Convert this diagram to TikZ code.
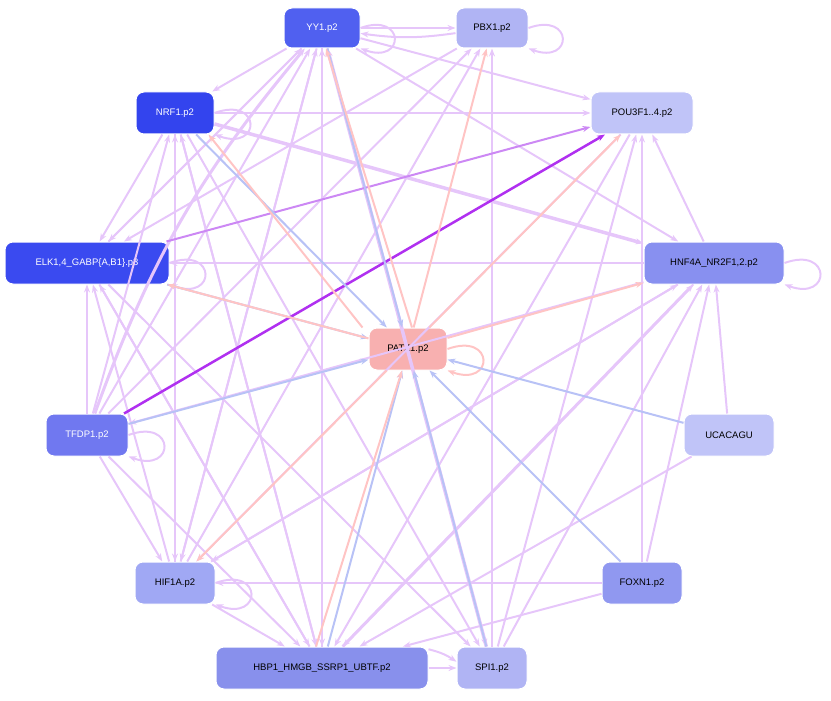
\documentclass[tikz,border=0pt]{standalone}
\usepackage{fontspec}
\setmainfont{Liberation Sans}
\usetikzlibrary{arrows.meta}
\definecolor{ep}{HTML}{E6C6FA}
\definecolor{epk}{HTML}{FFC4C4}
\definecolor{ebl}{HTML}{B8C2F6}
\begin{document}
\begin{tikzpicture}[x=1pt,y=-1pt,
 nd/.style={rounded corners=8pt,draw=white,line width=1pt,minimum height=42pt,font=\fontsize{9.5}{11}\selectfont,inner sep=3pt},
 e/.style={draw=ep,line width=2pt,-{Stealth[length=8pt,width=6pt]}},
 pk/.style={e,draw=epk},
 bl/.style={e,draw=ebl}]
\useasboundingbox (0,0) rectangle (831,701);
\node[nd,fill={rgb,255:red,80;green,96;blue,240},text=white,minimum width=76pt,minimum height=40pt] (yy) at (322,28) {YY1.p2};
\node[nd,fill={rgb,255:red,176;green,180;blue,244},minimum width=72pt,minimum height=40pt] (pbx) at (492,28) {PBX1.p2};
\node[nd,fill={rgb,255:red,51;green,68;blue,238},text=white,minimum width=78pt] (nrf) at (175,113) {NRF1.p2};
\node[nd,fill={rgb,255:red,192;green,196;blue,248},minimum width=102pt] (pou) at (642,113) {POU3F1..4.p2};
\node[nd,fill={rgb,255:red,58;green,74;blue,240},text=white,minimum width=164pt] (elk) at (87,263) {ELK1,4\_GABP\{A,B1\}.p3};
\node[nd,fill={rgb,255:red,136;green,144;blue,240},minimum width=140pt] (hnf) at (714,263) {HNF4A\_NR2F1,2.p2};
\node[nd,fill={rgb,255:red,248;green,176;blue,176},minimum width=78pt] (patz) at (408,349) {PATZ1.p2};
\node[nd,fill={rgb,255:red,112;green,120;blue,240},text=white,minimum width=82pt] (tfdp) at (87,435) {TFDP1.p2};
\node[nd,fill={rgb,255:red,192;green,196;blue,248},minimum width=90pt] (uca) at (729,435) {UCACAGU};
\node[nd,fill={rgb,255:red,160;green,168;blue,244},minimum width=80pt] (hif) at (175,583) {HIF1A.p2};
\node[nd,fill={rgb,255:red,144;green,152;blue,240},minimum width=80pt] (fox) at (642,583) {FOXN1.p2};
\node[nd,fill={rgb,255:red,136;green,144;blue,236},minimum width=212pt] (hbp) at (322,668) {HBP1\_HMGB\_SSRP1\_UBTF.p2};
\node[nd,fill={rgb,255:red,176;green,180;blue,244},minimum width=70pt] (spi) at (492,668) {SPI1.p2};
% purple edges
\foreach \a/\b in {yy/pbx,yy/pou,nrf/pou,yy/hnf,hnf/pou,tfdp/yy,tfdp/nrf,tfdp/elk,tfdp/hif,tfdp/hbp,hif/yy,hif/nrf,hif/elk,hif/pbx,hif/hbp,hbp/yy,hbp/nrf,hbp/elk,hbp/spi,spi/yy,spi/hnf,spi/pou,spi/pbx,fox/hnf,fox/pou,fox/hif,fox/hbp,uca/hnf,uca/hbp,hnf/hif,hnf/hbp,hnf/tfdp,pou/hif,pou/hbp,nrf/elk,yy/elk,yy/nrf,elk/yy,nrf/hif,nrf/hbp,yy/hbp,yy/hif,pbx/elk,hnf/elk,elk/hbp,nrf/spi,yy/spi,elk/spi,hif/hnf,tfdp/pbx}
  \draw[e] (\a) -- (\b);
\draw[e,line width=3.5pt] (nrf) -- (hnf);
\draw[e,line width=3.5pt] (spi) -- (yy);
\draw[e,line width=3pt] (hbp) -- (hnf);
\draw[e,line width=3pt] (tfdp) to[bend left=10] (yy);
\draw[e] (pbx) to[bend left=8] (yy);
\draw[e] (hbp) to[bend left=10] (spi);
\draw[e,draw={rgb,255:red,204;green,136;blue,244}] (elk) -- (pou);
\draw[e,draw={rgb,255:red,176;green,48;blue,240},line width=2.5pt] (tfdp) -- (pou);
% self loops
\draw[e] (yy.east) to[out=20,in=-20,looseness=6] (yy.south east);
\draw[e] (pbx.east) to[out=20,in=-20,looseness=6] (pbx.south east);
\draw[e] (nrf.east) to[out=20,in=-20,looseness=6] (nrf.south east);
\draw[e] (hnf.east) to[out=20,in=-20,looseness=6] (hnf.south east);
\draw[e] (tfdp.east) to[out=20,in=-20,looseness=6] (tfdp.south east);
\draw[e] (hif.east) to[out=20,in=-20,looseness=6] (hif.south east);
\draw[e] (elk.east) to[out=20,in=-20,looseness=6] (elk.south east);
\draw[pk] (patz.east) to[out=20,in=-20,looseness=6] (patz.south east);
% PATZ1 edges
\foreach \a in {uca,fox,spi,tfdp,yy,nrf,hbp,elk} \draw[bl] (\a) -- (patz);
\foreach \b in {pbx,pou,hnf,hif,elk} \draw[pk] (patz) -- (\b);
\draw[pk] ([xshift=4pt]patz.north) -- ([xshift=4pt]yy.south);
\draw[pk] ([xshift=-6pt]patz.north west) -- ([xshift=-6pt]nrf.south east);
\draw[pk] ([xshift=-6pt]hbp.north) -- ([xshift=-6pt]patz.south);
\end{tikzpicture}
\end{document}
